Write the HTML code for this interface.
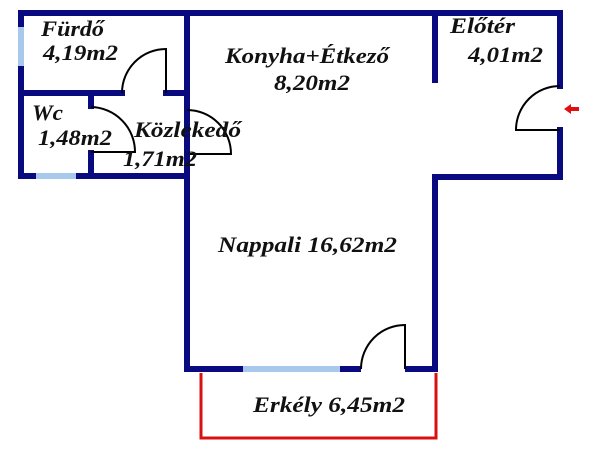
<!DOCTYPE html>
<html><head><meta charset="utf-8"><style>
html,body{margin:0;padding:0;background:#fff;width:600px;height:450px;overflow:hidden}
text{font-family:"Liberation Serif",serif;font-style:italic;font-weight:bold;font-size:22px;fill:#111}
</style></head><body>
<svg width="600" height="450" viewBox="0 0 600 450" xmlns="http://www.w3.org/2000/svg">
<g stroke="#0a0a80" stroke-width="6" fill="none" stroke-linecap="square">
<line x1="21" y1="13" x2="560" y2="13"/>
<line x1="21" y1="13" x2="21" y2="176"/>
<line x1="21" y1="176" x2="187" y2="176"/>
<line x1="187" y1="13" x2="187" y2="369"/>
<line x1="187" y1="369" x2="435" y2="369"/>
<line x1="435" y1="177" x2="435" y2="369"/>
<line x1="435" y1="177" x2="560" y2="177"/>
<line x1="560" y1="13" x2="560" y2="86"/>
<line x1="560" y1="130" x2="560" y2="177"/>
<line x1="21" y1="93" x2="122" y2="93"/>
<line x1="166" y1="93" x2="187" y2="93"/>
<line x1="91" y1="93" x2="91" y2="106"/>
<line x1="91" y1="153" x2="91" y2="176"/>
<line x1="435" y1="13" x2="435" y2="80"/>
</g>
<g stroke="#fff" stroke-width="6" stroke-linecap="butt">
<line x1="361" y1="369" x2="405" y2="369"/>
</g>
<g stroke="#a8c8ec" stroke-width="6" stroke-linecap="butt">
<line x1="21" y1="27" x2="21" y2="66"/>
<line x1="36" y1="176" x2="76" y2="176"/>
<line x1="243" y1="369" x2="340" y2="369"/>
</g>
<g stroke="#000" stroke-width="2" fill="none">
<path d="M122 93 A44 44 0 0 1 166 49 L166 93"/>
<path d="M91 107 A45 45 0 0 1 135 152 L91 152"/>
<path d="M187 110 A44 44 0 0 1 231 154 L190 154"/>
<path d="M560 86 A44 44 0 0 0 516 130 L560 130"/>
<path d="M361 369 A44 44 0 0 1 405 325 L405 369"/>
</g>
<path d="M201 373 L201 438 L436 438 L436 373" stroke="#d81010" stroke-width="3" fill="none"/>
<path d="M564 109 L571 104 L571 107 L579 107 L579 111 L571 111 L571 114 Z" fill="#e01010"/>
<text x="41" y="36" textLength="63" lengthAdjust="spacingAndGlyphs">Fürdő</text>
<text x="43" y="60" textLength="75" lengthAdjust="spacingAndGlyphs">4,19m2</text>
<text x="225" y="63" textLength="164" lengthAdjust="spacingAndGlyphs">Konyha+Étkező</text>
<text x="274" y="90" textLength="76" lengthAdjust="spacingAndGlyphs">8,20m2</text>
<text x="450" y="33" textLength="65" lengthAdjust="spacingAndGlyphs">Előtér</text>
<text x="468" y="62" textLength="75" lengthAdjust="spacingAndGlyphs">4,01m2</text>
<text x="32" y="120" textLength="31" lengthAdjust="spacingAndGlyphs">Wc</text>
<text x="38" y="145" textLength="74" lengthAdjust="spacingAndGlyphs">1,48m2</text>
<text x="134" y="137" textLength="107" lengthAdjust="spacingAndGlyphs">Közlekedő</text>
<text x="123" y="166" textLength="74" lengthAdjust="spacingAndGlyphs">1,71m2</text>
<text x="218" y="252" textLength="179" lengthAdjust="spacingAndGlyphs">Nappali 16,62m2</text>
<text x="253" y="412" textLength="152" lengthAdjust="spacingAndGlyphs">Erkély 6,45m2</text>
</svg>
</body></html>
